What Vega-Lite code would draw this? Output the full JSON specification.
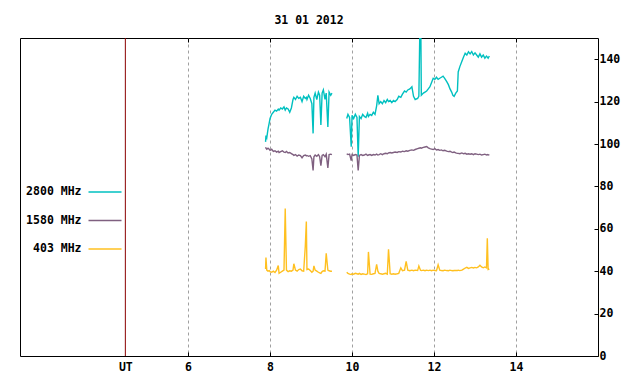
{
"$schema": "https://vega.github.io/schema/vega-lite/v6.json",
"width": 578, "height": 318,
"autosize": "none",
"padding": {"left": 20, "top": 38, "right": 42, "bottom": 28},
"background": "white",
"title": {"text": "31 01 2012", "anchor": "middle", "font": "DejaVu Sans Mono", "fontSize": 11.5, "fontWeight": "bold", "color": "black", "offset": 2, "baseline": "alphabetic"},
"config": {"view": {"stroke": "black", "strokeWidth": 1}, "font": "DejaVu Sans Mono"},
"layer": [
{
"data": {"values": [
{"t":7.89,"p":1,"2800 MHz":101,"1580 MHz":98.5,"403 MHz":41},
{"t":7.9,"p":1,"2800 MHz":104,"1580 MHz":98,"403 MHz":46.4},
{"t":7.92,"p":1,"2800 MHz":103,"1580 MHz":97.5,"403 MHz":40.5},
{"t":7.95,"p":1,"2800 MHz":107,"1580 MHz":98,"403 MHz":40},
{"t":7.98,"p":1,"2800 MHz":110,"1580 MHz":97.5,"403 MHz":40.3},
{"t":8.0,"p":1,"2800 MHz":112,"1580 MHz":97,"403 MHz":39.8},
{"t":8.04,"p":1,"2800 MHz":114,"1580 MHz":97.5,"403 MHz":39.5},
{"t":8.08,"p":1,"2800 MHz":115,"1580 MHz":96.5,"403 MHz":40},
{"t":8.12,"p":1,"2800 MHz":116,"1580 MHz":96.8,"403 MHz":39.4},
{"t":8.16,"p":1,"2800 MHz":115.5,"1580 MHz":96.2,"403 MHz":40.5},
{"t":8.2,"p":1,"2800 MHz":116.5,"1580 MHz":96.6,"403 MHz":42.7},
{"t":8.22,"p":1,"2800 MHz":116,"1580 MHz":96,"403 MHz":39},
{"t":8.26,"p":1,"2800 MHz":117,"1580 MHz":96.4,"403 MHz":39.5},
{"t":8.3,"p":1,"2800 MHz":116.5,"1580 MHz":96.8,"403 MHz":40},
{"t":8.34,"p":1,"2800 MHz":117.5,"1580 MHz":96.2,"403 MHz":40.5},
{"t":8.37,"p":1,"2800 MHz":116,"1580 MHz":96,"403 MHz":69.6},
{"t":8.4,"p":1,"2800 MHz":117,"1580 MHz":96.5,"403 MHz":40.5},
{"t":8.44,"p":1,"2800 MHz":116.5,"1580 MHz":95.8,"403 MHz":39.8},
{"t":8.48,"p":1,"2800 MHz":115,"1580 MHz":96,"403 MHz":40.2},
{"t":8.52,"p":1,"2800 MHz":117,"1580 MHz":95.5,"403 MHz":40},
{"t":8.56,"p":1,"2800 MHz":121,"1580 MHz":95,"403 MHz":40.5},
{"t":8.58,"p":1,"2800 MHz":122,"1580 MHz":94.6,"403 MHz":43.5},
{"t":8.62,"p":1,"2800 MHz":121,"1580 MHz":95,"403 MHz":40.5},
{"t":8.66,"p":1,"2800 MHz":122.5,"1580 MHz":94.3,"403 MHz":40},
{"t":8.7,"p":1,"2800 MHz":121.5,"1580 MHz":94.8,"403 MHz":40.8},
{"t":8.74,"p":1,"2800 MHz":122,"1580 MHz":94.5,"403 MHz":41},
{"t":8.78,"p":1,"2800 MHz":120,"1580 MHz":93.5,"403 MHz":40.2},
{"t":8.82,"p":1,"2800 MHz":122.5,"1580 MHz":94.5,"403 MHz":40},
{"t":8.86,"p":1,"2800 MHz":121.5,"1580 MHz":94.8,"403 MHz":51.9},
{"t":8.885,"p":1,"2800 MHz":122,"1580 MHz":94.4,"403 MHz":63.4},
{"t":8.9,"p":1,"2800 MHz":121,"1580 MHz":94.6,"403 MHz":40.8},
{"t":8.94,"p":1,"2800 MHz":123,"1580 MHz":94.2,"403 MHz":41},
{"t":8.98,"p":1,"2800 MHz":121.5,"1580 MHz":94.5,"403 MHz":40.3},
{"t":9.02,"p":1,"2800 MHz":119,"1580 MHz":93,"403 MHz":39.5},
{"t":9.05,"p":1,"2800 MHz":105,"1580 MHz":87.5,"403 MHz":40},
{"t":9.07,"p":1,"2800 MHz":122,"1580 MHz":94,"403 MHz":42.5},
{"t":9.1,"p":1,"2800 MHz":124,"1580 MHz":94.8,"403 MHz":40.5},
{"t":9.14,"p":1,"2800 MHz":121,"1580 MHz":94.2,"403 MHz":40},
{"t":9.18,"p":1,"2800 MHz":124.5,"1580 MHz":95,"403 MHz":39.5},
{"t":9.21,"p":1,"2800 MHz":123,"1580 MHz":94,"403 MHz":39.2},
{"t":9.24,"p":1,"2800 MHz":109,"1580 MHz":89.8,"403 MHz":39},
{"t":9.27,"p":1,"2800 MHz":124,"1580 MHz":94.6,"403 MHz":39.8},
{"t":9.3,"p":1,"2800 MHz":125.5,"1580 MHz":95,"403 MHz":40.2},
{"t":9.34,"p":1,"2800 MHz":121,"1580 MHz":94,"403 MHz":40},
{"t":9.37,"p":1,"2800 MHz":124,"1580 MHz":95.2,"403 MHz":48.4},
{"t":9.41,"p":1,"2800 MHz":108,"1580 MHz":88.7,"403 MHz":40.5},
{"t":9.44,"p":1,"2800 MHz":124.5,"1580 MHz":95,"403 MHz":40.2},
{"t":9.48,"p":1,"2800 MHz":123,"1580 MHz":95.2,"403 MHz":40},
{"t":9.51,"p":1,"2800 MHz":124,"1580 MHz":95,"403 MHz":40},
{"t":9.87,"p":2,"2800 MHz":112,"1580 MHz":95.4,"403 MHz":39.5},
{"t":9.9,"p":2,"2800 MHz":114,"1580 MHz":95,"403 MHz":39},
{"t":9.94,"p":2,"2800 MHz":112.5,"1580 MHz":95.2,"403 MHz":38.6},
{"t":9.98,"p":2,"2800 MHz":98.7,"1580 MHz":92.2,"403 MHz":38.4},
{"t":10.0,"p":2,"2800 MHz":113.5,"1580 MHz":95,"403 MHz":38.8},
{"t":10.04,"p":2,"2800 MHz":112,"1580 MHz":94.6,"403 MHz":38.6},
{"t":10.08,"p":2,"2800 MHz":114,"1580 MHz":95,"403 MHz":39},
{"t":10.12,"p":2,"2800 MHz":112.5,"1580 MHz":94.8,"403 MHz":38.8},
{"t":10.15,"p":2,"2800 MHz":94,"1580 MHz":87.5,"403 MHz":38.6},
{"t":10.18,"p":2,"2800 MHz":113,"1580 MHz":94.6,"403 MHz":39},
{"t":10.22,"p":2,"2800 MHz":112,"1580 MHz":95,"403 MHz":38.5},
{"t":10.26,"p":2,"2800 MHz":114,"1580 MHz":94.6,"403 MHz":38.8},
{"t":10.3,"p":2,"2800 MHz":113,"1580 MHz":94.8,"403 MHz":38.6},
{"t":10.34,"p":2,"2800 MHz":112.5,"1580 MHz":95.2,"403 MHz":38.4},
{"t":10.38,"p":2,"2800 MHz":114.5,"1580 MHz":94.6,"403 MHz":38.8},
{"t":10.4,"p":2,"2800 MHz":113,"1580 MHz":94.8,"403 MHz":49.1},
{"t":10.44,"p":2,"2800 MHz":114,"1580 MHz":95,"403 MHz":38.6},
{"t":10.48,"p":2,"2800 MHz":113.5,"1580 MHz":94.6,"403 MHz":38.5},
{"t":10.52,"p":2,"2800 MHz":115,"1580 MHz":95,"403 MHz":38.8},
{"t":10.56,"p":2,"2800 MHz":114,"1580 MHz":94.8,"403 MHz":39},
{"t":10.6,"p":2,"2800 MHz":118,"1580 MHz":95.2,"403 MHz":43.2},
{"t":10.63,"p":2,"2800 MHz":123,"1580 MHz":94.8,"403 MHz":40},
{"t":10.66,"p":2,"2800 MHz":119,"1580 MHz":95,"403 MHz":39},
{"t":10.7,"p":2,"2800 MHz":120,"1580 MHz":95.4,"403 MHz":38.8},
{"t":10.74,"p":2,"2800 MHz":119,"1580 MHz":95,"403 MHz":38.6},
{"t":10.78,"p":2,"2800 MHz":120.5,"1580 MHz":95.4,"403 MHz":38.8},
{"t":10.82,"p":2,"2800 MHz":119.5,"1580 MHz":95.6,"403 MHz":39},
{"t":10.86,"p":2,"2800 MHz":121,"1580 MHz":95.4,"403 MHz":38.6},
{"t":10.89,"p":2,"2800 MHz":120,"1580 MHz":95.8,"403 MHz":50.3},
{"t":10.93,"p":2,"2800 MHz":120.5,"1580 MHz":96,"403 MHz":38.8},
{"t":10.97,"p":2,"2800 MHz":119.5,"1580 MHz":95.8,"403 MHz":38.6},
{"t":11.01,"p":2,"2800 MHz":120.5,"1580 MHz":96,"403 MHz":38.8},
{"t":11.05,"p":2,"2800 MHz":120,"1580 MHz":96.2,"403 MHz":38.6},
{"t":11.1,"p":2,"2800 MHz":121,"1580 MHz":96,"403 MHz":38.8},
{"t":11.14,"p":2,"2800 MHz":122.5,"1580 MHz":96.4,"403 MHz":39},
{"t":11.19,"p":2,"2800 MHz":122,"1580 MHz":96.2,"403 MHz":41.6},
{"t":11.23,"p":2,"2800 MHz":123.5,"1580 MHz":96.6,"403 MHz":40.2},
{"t":11.28,"p":2,"2800 MHz":125,"1580 MHz":96.4,"403 MHz":40.5},
{"t":11.32,"p":2,"2800 MHz":124.5,"1580 MHz":96.8,"403 MHz":44.6},
{"t":11.36,"p":2,"2800 MHz":125.5,"1580 MHz":96.6,"403 MHz":40.5},
{"t":11.41,"p":2,"2800 MHz":126,"1580 MHz":97,"403 MHz":40.2},
{"t":11.46,"p":2,"2800 MHz":127,"1580 MHz":97.2,"403 MHz":40.5},
{"t":11.5,"p":2,"2800 MHz":122.5,"1580 MHz":97,"403 MHz":40.2},
{"t":11.54,"p":2,"2800 MHz":121,"1580 MHz":97.4,"403 MHz":40.5},
{"t":11.6,"p":2,"2800 MHz":121.5,"1580 MHz":97.8,"403 MHz":40.3},
{"t":11.63,"p":2,"2800 MHz":122.5,"1580 MHz":98,"403 MHz":42.5},
{"t":11.67,"p":2,"2800 MHz":175,"1580 MHz":98.2,"403 MHz":40.5},
{"t":11.69,"p":2,"2800 MHz":123,"1580 MHz":98,"403 MHz":40.3},
{"t":11.74,"p":2,"2800 MHz":124,"1580 MHz":98.4,"403 MHz":40.5},
{"t":11.78,"p":2,"2800 MHz":124.5,"1580 MHz":98.6,"403 MHz":40.2},
{"t":11.82,"p":2,"2800 MHz":125,"1580 MHz":98.8,"403 MHz":40.5},
{"t":11.86,"p":2,"2800 MHz":126,"1580 MHz":98.2,"403 MHz":40.3},
{"t":11.9,"p":2,"2800 MHz":127,"1580 MHz":97.8,"403 MHz":40.5},
{"t":11.94,"p":2,"2800 MHz":129,"1580 MHz":97.6,"403 MHz":40.2},
{"t":11.98,"p":2,"2800 MHz":131,"1580 MHz":97.4,"403 MHz":40.5},
{"t":12.02,"p":2,"2800 MHz":130.5,"1580 MHz":97.8,"403 MHz":40.3},
{"t":12.06,"p":2,"2800 MHz":131.5,"1580 MHz":97.2,"403 MHz":40.2},
{"t":12.1,"p":2,"2800 MHz":130.5,"1580 MHz":97.4,"403 MHz":43},
{"t":12.14,"p":2,"2800 MHz":131,"1580 MHz":97,"403 MHz":40.5},
{"t":12.18,"p":2,"2800 MHz":131.5,"1580 MHz":97.2,"403 MHz":40.3},
{"t":12.22,"p":2,"2800 MHz":132,"1580 MHz":96.8,"403 MHz":40.2},
{"t":12.26,"p":2,"2800 MHz":131,"1580 MHz":97,"403 MHz":40.5},
{"t":12.31,"p":2,"2800 MHz":129.4,"1580 MHz":96.6,"403 MHz":40.3},
{"t":12.35,"p":2,"2800 MHz":128,"1580 MHz":96.4,"403 MHz":40.2},
{"t":12.39,"p":2,"2800 MHz":126,"1580 MHz":96.6,"403 MHz":40.5},
{"t":12.43,"p":2,"2800 MHz":124.5,"1580 MHz":96.2,"403 MHz":40.3},
{"t":12.46,"p":2,"2800 MHz":123,"1580 MHz":96,"403 MHz":40.2},
{"t":12.49,"p":2,"2800 MHz":122.5,"1580 MHz":96.2,"403 MHz":40.3},
{"t":12.53,"p":2,"2800 MHz":124,"1580 MHz":95.8,"403 MHz":40.4},
{"t":12.57,"p":2,"2800 MHz":125,"1580 MHz":95.6,"403 MHz":40.3},
{"t":12.59,"p":2,"2800 MHz":134,"1580 MHz":95.6,"403 MHz":40.5},
{"t":12.63,"p":2,"2800 MHz":136.5,"1580 MHz":95.4,"403 MHz":40.3},
{"t":12.68,"p":2,"2800 MHz":139,"1580 MHz":95.8,"403 MHz":40.5},
{"t":12.72,"p":2,"2800 MHz":141,"1580 MHz":95.4,"403 MHz":41},
{"t":12.76,"p":2,"2800 MHz":142.8,"1580 MHz":95.6,"403 MHz":41.5},
{"t":12.8,"p":2,"2800 MHz":142,"1580 MHz":95.2,"403 MHz":41.8},
{"t":12.84,"p":2,"2800 MHz":143.5,"1580 MHz":95.4,"403 MHz":41.3},
{"t":12.88,"p":2,"2800 MHz":142.5,"1580 MHz":95.2,"403 MHz":41.6},
{"t":12.92,"p":2,"2800 MHz":143.6,"1580 MHz":95.4,"403 MHz":41.8},
{"t":12.96,"p":2,"2800 MHz":142,"1580 MHz":95,"403 MHz":41.5},
{"t":13.0,"p":2,"2800 MHz":143,"1580 MHz":95.4,"403 MHz":41.8},
{"t":13.04,"p":2,"2800 MHz":142,"1580 MHz":95.2,"403 MHz":41.6},
{"t":13.08,"p":2,"2800 MHz":141,"1580 MHz":95,"403 MHz":42},
{"t":13.12,"p":2,"2800 MHz":142.5,"1580 MHz":95.2,"403 MHz":42.8},
{"t":13.16,"p":2,"2800 MHz":141,"1580 MHz":94.8,"403 MHz":42},
{"t":13.2,"p":2,"2800 MHz":142,"1580 MHz":95,"403 MHz":41.6},
{"t":13.24,"p":2,"2800 MHz":140.5,"1580 MHz":95.2,"403 MHz":42},
{"t":13.28,"p":2,"2800 MHz":141.5,"1580 MHz":94.8,"403 MHz":41.6},
{"t":13.3,"p":2,"2800 MHz":141,"1580 MHz":95,"403 MHz":55.5},
{"t":13.32,"p":2,"2800 MHz":140.5,"1580 MHz":94.8,"403 MHz":40.8},
{"t":13.35,"p":2,"2800 MHz":141.5,"1580 MHz":95,"403 MHz":41}
]},
"transform": [{"fold": ["2800 MHz", "1580 MHz", "403 MHz"], "as": ["s", "v"]}],
"mark": {"type": "line", "strokeWidth": 1.4, "clip": true},
"encoding": {
"x": {"field": "t", "type": "quantitative", "scale": {"domain": [1.9, 16], "nice": false, "zero": false},
  "axis": {"orient": "bottom", "title": null, "values": [4.47, 6, 8, 10, 12, 14], "domain": false,
    "labelExpr": "datum.value < 5 ? 'UT' : format(datum.value, 'd')",
    "labelFont": "DejaVu Sans Mono", "labelFontWeight": "bold", "labelFontSize": 11.5, "labelColor": "black",
    "labelBaseline": "top", "labelPadding": 9, "labelFlush": false, "labelOverlap": false,
    "tickSize": -4, "tickColor": {"condition": {"test": "datum.value < 5", "value": "transparent"}, "value": "black"},
    "grid": true, "gridDash": [3, 3], "gridColor": {"condition": {"test": "datum.value < 5", "value": "transparent"}, "value": "#a0a0a0"}, "gridWidth": 1}},
"y": {"field": "v", "type": "quantitative", "scale": {"domain": [0, 150], "nice": false},
  "axis": {"orient": "right", "title": null, "values": [0, 20, 40, 60, 80, 100, 120, 140], "format": "d", "domain": false, "grid": false,
    "labelFont": "DejaVu Sans Mono", "labelFontWeight": "bold", "labelFontSize": 11.5, "labelColor": "black",
    "labelPadding": 5, "tickSize": -4, "tickColor": "black", "labelFlush": false}},
"color": {"field": "s", "type": "nominal",
  "scale": {"domain": ["2800 MHz", "1580 MHz", "403 MHz"], "range": ["#00c0c0", "#7f6080", "#ffc020"]},
  "legend": {"title": null, "orient": "none", "legendX": 67.5, "legendY": 136.5, "padding": 0,
    "symbolType": "stroke", "symbolSize": 1089, "symbolStrokeWidth": 1.5, "symbolOpacity": 1,
    "labelAlign": "right", "labelOffset": -41, "rowPadding": 5.5,
    "labelFont": "DejaVu Sans Mono", "labelFontWeight": "bold", "labelFontSize": 11.5, "labelColor": "black"}},
"detail": {"field": "p", "type": "nominal"}
}
},
{
"data": {"values": [{"t": 4.47}]},
"mark": {"type": "rule", "color": "#8b0000", "strokeWidth": 1},
"encoding": {
"x": {"field": "t", "type": "quantitative", "scale": {"domain": [1.9, 16], "nice": false, "zero": false},
  "axis": {"orient": "top", "title": null, "values": [6, 8, 10, 12, 14], "labels": false, "domain": false, "grid": false, "tickSize": -4, "tickColor": "black"}}
}
}
],
"resolve": {"axis": {"x": "independent"}}
}
